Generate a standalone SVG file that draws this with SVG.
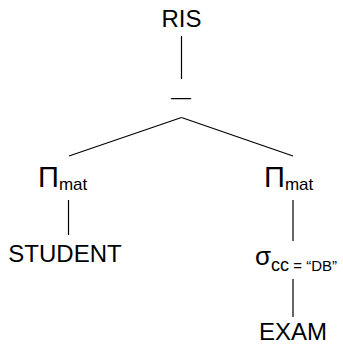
<svg xmlns="http://www.w3.org/2000/svg" width="343" height="345" viewBox="0 0 343 345">
<style>
.t{font-family:"Liberation Sans",Arial,sans-serif;fill:#000;}
.big{font-size:24px;}
.op{font-size:29px;}
.sub{font-size:17px;}
.sub2{font-size:15px;}
.e{stroke:#000;stroke-width:1.2;fill:none;}
</style>
<rect width="343" height="345" fill="#fff"/>
<g id="connectors">
<line class="e" x1="181.5" y1="36" x2="181.5" y2="79"/>
<line class="e" x1="181.5" y1="117.5" x2="69" y2="156"/>
<line class="e" x1="181.5" y1="117.5" x2="293" y2="156"/>
<line class="e" x1="68.5" y1="200" x2="68.5" y2="235"/>
<line class="e" x1="293" y1="200" x2="293" y2="241"/>
<line class="e" x1="293" y1="279" x2="293" y2="317"/>
</g>
<g id="ris"><text class="t big" x="181.5" y="27" text-anchor="middle">RIS</text></g>
<g id="diff"><text class="t" style="font-size:20px" x="181" y="104" text-anchor="middle">—</text></g>
<g id="proj-left"><text class="t" x="38" y="187"><tspan class="op">Π</tspan><tspan class="sub" dy="3">mat</tspan></text></g>
<g id="proj-right"><text class="t" x="264" y="187"><tspan class="op">Π</tspan><tspan class="sub" dy="3">mat</tspan></text></g>
<g id="student"><text class="t big" x="65" y="262" text-anchor="middle">STUDENT</text></g>
<g id="select"><text class="t" x="255" y="265"><tspan style="font-size:26px">σ</tspan><tspan style="font-size:18px" dy="6">cc</tspan><tspan class="sub2"> = “DB”</tspan></text></g>
<g id="exam"><text class="t big" x="293" y="340" text-anchor="middle">EXAM</text></g>
</svg>
